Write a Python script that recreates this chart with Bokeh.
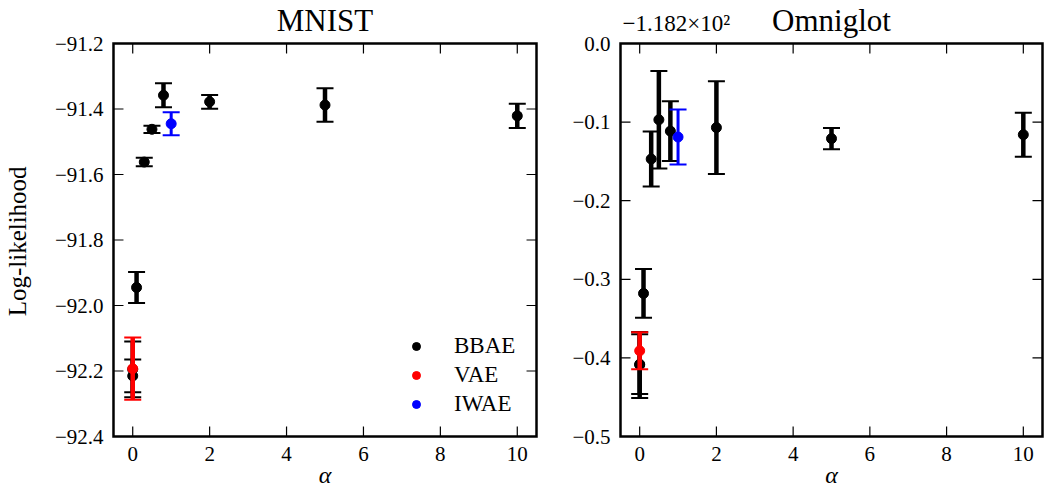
import math
import numpy as np
from bokeh.plotting import figure
from bokeh.models import (Label, FixedTicker, CustomJSTickFormatter,
                          Legend, LegendItem)
from bokeh.layouts import row
from bokeh.embed import file_html
from bokeh.resources import INLINE

FONT = "Liberation Serif"

# ---------------- data ----------------
x_ticks = [0, 2, 4, 6, 8, 10]
x_lim = (-0.5, 10.5)

# MNIST
mnist_y_lim = (-92.4, -91.2)
mnist_y_ticks = [-92.4, -92.2, -92.0, -91.8, -91.6, -91.4, -91.2]
mnist_bbae_alpha = [0, 0, 0.1, 0.3, 0.5, 0.8, 2, 5, 10]
mnist_bbae_ll = [-92.215, -92.195, -91.945, -91.562, -91.462, -91.358, -91.378, -91.388, -91.421]
mnist_bbae_err = [0.05, 0.085, 0.047, 0.013, 0.011, 0.037, 0.021, 0.051, 0.037]
mnist_vae_alpha = [0]
mnist_vae_ll = [-92.193]
mnist_vae_err = [0.095]
mnist_iwae_alpha = [1]
mnist_iwae_ll = [-91.445]
mnist_iwae_err = [0.035]

# Omniglot (values relative to the offset -118.2)
omni_offset_text = "\u22121.182\u00d710\u00b2"
omni_y_lim = (-0.5, 0.0)
omni_y_ticks = [-0.5, -0.4, -0.3, -0.2, -0.1, 0.0]
omni_bbae_alpha = [0, 0, 0.1, 0.3, 0.5, 0.8, 2, 5, 10]
omni_bbae_ll = [-0.408, -0.409, -0.318, -0.147, -0.097, -0.1115, -0.107, -0.121, -0.116]
omni_bbae_err = [0.038, 0.042, 0.031, 0.035, 0.062, 0.038, 0.059, 0.0135, 0.028]
omni_vae_alpha = [0]
omni_vae_ll = [-0.391]
omni_vae_err = [0.0235]
omni_iwae_alpha = [1]
omni_iwae_ll = [-0.119]
omni_iwae_err = [0.035]

series_names = ["BBAE", "VAE", "IWAE"]
series_colors = ["black", "red", "blue"]
series_bar_widths = [4.5, 4.5, 3]

# ---------------- layout (pixels) ----------------
FIG_H = 490
BOX_TOP = 43          # px from top of canvas to the axes box
BOX_H = 393           # axes box height
PAD = 2               # frame extends this far beyond the box (left/right/bottom)
TICK_LEN = 10
NBSP = "\u00a0"


def make_panel(width, box_left, box_w, ylim, yticks, groups, title,
               legend=False, ylabel=None, offset_text=None):
    sx = (x_lim[1] - x_lim[0]) / box_w
    sy = (ylim[1] - ylim[0]) / BOX_H
    xr = (x_lim[0] - PAD * sx, x_lim[1] + PAD * sx)
    yr = (ylim[0] - PAD * sy, ylim[1] + BOX_TOP * sy)
    border_left = box_left - PAD
    border_right = width - border_left - box_w - 2 * PAD
    border_bottom = FIG_H - BOX_TOP - BOX_H - PAD

    p = figure(width=width, height=FIG_H, x_range=xr, y_range=yr,
               output_backend="svg", toolbar_location=None,
               min_border_left=border_left, min_border_right=border_right,
               min_border_top=0, min_border_bottom=border_bottom)
    p.grid.visible = False
    p.outline_line_color = None
    p.background_fill_color = "white"
    p.border_fill_color = "white"

    xf = CustomJSTickFormatter(code="return tick.toFixed(0);")
    yf = CustomJSTickFormatter(
        code="return (tick < -1e-9 ? '\u2212' : '') + Math.abs(tick).toFixed(1);")
    for ax in p.xaxis:
        ax.ticker = FixedTicker(ticks=x_ticks)
        ax.formatter = xf
    for ax in p.yaxis:
        ax.ticker = FixedTicker(ticks=yticks)
        ax.formatter = yf
    for ax in p.axis:
        ax.axis_line_color = None
        ax.major_tick_line_color = None
        ax.minor_tick_line_color = None
        ax.major_tick_in = 0
        ax.major_tick_out = 0
        ax.major_label_text_font = FONT
        ax.major_label_text_font_size = "21px"
        ax.major_label_text_color = "black"
    p.xaxis.major_label_standoff = 8
    p.yaxis.major_label_standoff = 8
    p.xaxis.axis_label = "\u03b1"
    p.xaxis.axis_label_text_font = FONT
    p.xaxis.axis_label_text_font_style = "italic"
    p.xaxis.axis_label_text_font_size = "24px"
    p.xaxis.axis_label_text_color = "black"
    p.xaxis.axis_label_standoff = -2
    if ylabel:
        # trailing no-break spaces shift the centred label onto the box centre
        p.yaxis.axis_label = ylabel + NBSP * 7
        p.yaxis.axis_label_text_font = FONT
        p.yaxis.axis_label_text_font_style = "normal"
        p.yaxis.axis_label_text_font_size = "25px"
        p.yaxis.axis_label_text_color = "black"
        p.yaxis.axis_label_standoff = 21

    # ---- data: error bars, caps and markers ----
    dots = []
    for (ax_, ll, err), name, color, bw in zip(groups, series_names,
                                               series_colors, series_bar_widths):
        a = np.array(ax_, dtype=float)
        y = np.array(ll, dtype=float)
        e = np.array(err, dtype=float)
        p.segment(x0=a, y0=y - e, x1=a, y1=y + e, line_color=color, line_width=bw)
        p.scatter(x=a, y=y + e, marker="dash", size=17, line_width=2, line_color=color)
        p.scatter(x=a, y=y - e, marker="dash", size=17, line_width=2, line_color=color)
        r = p.scatter(x=a, y=y, marker="circle", size=10, fill_color=color,
                      line_color=color)
        dots.append((name, r))

    # ---- axes box and inward ticks on all four sides ----
    xt = np.array(x_ticks, dtype=float)
    yt = np.array(yticks, dtype=float)
    tx = TICK_LEN * sx
    ty = TICK_LEN * sy
    p.segment(x0=xt, y0=np.full_like(xt, ylim[0]), x1=xt, y1=np.full_like(xt, ylim[0] + ty),
              line_color="black", line_width=1.2)
    p.segment(x0=xt, y0=np.full_like(xt, ylim[1]), x1=xt, y1=np.full_like(xt, ylim[1] - ty),
              line_color="black", line_width=1.2)
    p.segment(x0=np.full_like(yt, x_lim[0]), y0=yt, x1=np.full_like(yt, x_lim[0] + tx), y1=yt,
              line_color="black", line_width=1.2)
    p.segment(x0=np.full_like(yt, x_lim[1]), y0=yt, x1=np.full_like(yt, x_lim[1] - tx), y1=yt,
              line_color="black", line_width=1.2)
    p.quad(left=[x_lim[0]], right=[x_lim[1]], bottom=[ylim[0]], top=[ylim[1]],
           fill_color=None, line_color="black", line_width=2.5, line_join="miter")

    if legend:
        lg = Legend(items=[LegendItem(label=n, renderers=[r]) for n, r in dots],
                    location=(285, 11), border_line_alpha=0,
                    background_fill_alpha=0, label_text_font=FONT,
                    label_text_font_size="23px", label_text_color="black",
                    glyph_width=20, glyph_height=20,
                    label_height=20, label_standoff=28, spacing=3, padding=10,
                    margin=0)
        p.add_layout(lg, "center")

    p.add_layout(Label(x=(x_lim[0] + x_lim[1]) / 2, y=ylim[1], y_offset=23, text=title,
                       text_align="center", text_baseline="alphabetic",
                       text_font=FONT, text_font_size="31px", text_color="black"))
    if offset_text:
        p.add_layout(Label(x=x_lim[0], y=ylim[1], x_offset=2, y_offset=20,
                           text=offset_text, text_align="left",
                           text_baseline="alphabetic", text_font=FONT,
                           text_font_size="23px", text_color="black"))
    return p


p1 = make_panel(546, 112, 424, mnist_y_lim, mnist_y_ticks,
                [(mnist_bbae_alpha, mnist_bbae_ll, mnist_bbae_err),
                 (mnist_vae_alpha, mnist_vae_ll, mnist_vae_err),
                 (mnist_iwae_alpha, mnist_iwae_ll, mnist_iwae_err)],
                "MNIST", legend=True, ylabel="Log-likelihood")
p2 = make_panel(498, 74, 422, omni_y_lim, omni_y_ticks,
                [(omni_bbae_alpha, omni_bbae_ll, omni_bbae_err),
                 (omni_vae_alpha, omni_vae_ll, omni_vae_err),
                 (omni_iwae_alpha, omni_iwae_ll, omni_iwae_err)],
                "Omniglot", offset_text=omni_offset_text)

layout = row(p1, p2)
open("out.html", "w").write(file_html(layout, INLINE))
